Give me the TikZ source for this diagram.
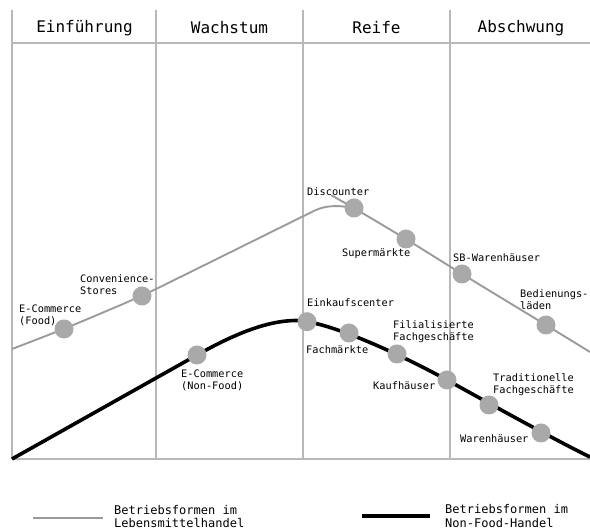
\documentclass[tikz,border=0pt]{standalone}
\usepackage{fontspec}
\setmonofont{DejaVu Sans Mono}
\definecolor{gridc}{HTML}{B8B8B8}
\definecolor{foodc}{HTML}{9B9B9B}
\definecolor{dotc}{HTML}{A9A9A9}
\begin{document}
\begin{tikzpicture}[x=1pt,y=1pt,
  gridline/.style={draw=gridc, line width=1.6pt},
  foodline/.style={draw=foodc, line width=1.9pt},
  nfline/.style={draw=black, line width=3.6pt},
  dot/.style={circle, fill=dotc, minimum size=19pt, inner sep=0pt},
  lbl/.style={font=\ttfamily\fontsize{10.3}{12}\selectfont, align=left, inner sep=0pt, anchor=west},
  hdr/.style={font=\ttfamily\fontsize{16}{18}\selectfont, inner sep=0pt},
  leg/.style={font=\ttfamily\fontsize{12}{13.5}\selectfont, align=left, inner sep=0pt, anchor=west}]
\useasboundingbox (0,0) rectangle (590,532);

% grid
\coordinate (v1t) at (12,522); \coordinate (v1b) at (12,73);
\coordinate (v2t) at (156,522); \coordinate (v2b) at (156,73);
\coordinate (v3t) at (303,522); \coordinate (v3b) at (303,73);
\coordinate (v4t) at (450,522); \coordinate (v4b) at (450,73);
\coordinate (hl) at (12,489); \coordinate (hr) at (590,489);
\coordinate (bl) at (12,73); \coordinate (br) at (590,73);
\draw[gridline] (v1t) -- (v1b);
\draw[gridline] (v2t) -- (v2b);
\draw[gridline] (v3t) -- (v3b);
\draw[gridline] (v4t) -- (v4b);
\draw[gridline] (hl) -- (hr);
\draw[gridline] (bl) -- (br);

% headers
\node[hdr] (h1) at (84.5,504) {Einführung};
\node[hdr] (h2) at (229.5,504) {Wachstum};
\node[hdr] (h3) at (376.5,504) {Reife};
\node[hdr] (h4) at (521,504) {Abschwung};

% food curve points
\coordinate (gs) at (12,183);
\coordinate (food) at (64,203);
\coordinate (conv) at (142,236);
\coordinate (gpeak) at (338,333);
\coordinate (disc) at (354,324);
\coordinate (super) at (406,293);
\coordinate (sb) at (462,258);
\coordinate (bed) at (546,207);
\coordinate (ge) at (590,180);

% non-food curve points
\coordinate (bs) at (12,73);
\coordinate (ecnf) at (197,177);
\coordinate (bpk) at (295,211.5);
\coordinate (eink) at (307,210.3);
\coordinate (fach) at (349,199);
\coordinate (fil) at (397,178);
\coordinate (kauf) at (447,152);
\coordinate (trad) at (489,127);
\coordinate (waren) at (541,99);
\coordinate (be) at (590,75);

\draw[foodline, rounded corners=26pt] (gs) -- (food) -- (conv) -- (gpeak) -- (disc) -- (super) -- (sb) -- (bed) -- (ge);
\draw[nfline] (bs) -- (ecnf) .. controls (232,196.6) and (265,211) .. (bpk)
  .. controls (330,211.5) and (410,172.4) .. (kauf)
  .. controls (480,133.8) and (550,94.6) .. (be);

% dots
\foreach \p in {food,conv,disc,super,sb,bed,ecnf,eink,fach,fil,kauf,trad,waren}
  \node[dot] (d-\p) at (\p) {};

% labels
\node[lbl] (l-disc) at (307,340) {Discounter};
\node[lbl] (l-super) at (342,278) {Supermärkte};
\node[lbl] (l-sb) at (453,274) {SB-Warenhäuser};
\node[lbl] (l-bed) at (520,232.5) {Bedienungs-\\läden};
\node[lbl] (l-eink) at (307,229) {Einkaufscenter};
\node[lbl] (l-fach) at (306,182) {Fachmärkte};
\node[lbl] (l-fil) at (393,200.5) {Filialisierte\\Fachgeschäfte};
\node[lbl] (l-kauf) at (373,146) {Kaufhäuser};
\node[lbl] (l-trad) at (493,147) {Traditionelle\\Fachgeschäfte};
\node[lbl] (l-waren) at (460,93) {Warenhäuser};
\node[lbl] (l-conv) at (80,247) {Convenience-\\Stores};
\node[lbl] (l-food) at (19,217) {E-Commerce\\(Food)};
\node[lbl] (l-ecnf) at (181,152) {E-Commerce\\(Non-Food)};

% legend
\coordinate (lg1a) at (33,14); \coordinate (lg1b) at (103,14);
\coordinate (lg2a) at (362,16); \coordinate (lg2b) at (430,16);
\draw[foodline] (lg1a) -- (lg1b);
\draw[nfline] (lg2a) -- (lg2b);
\node[leg] (lt1) at (114,15.5) {Betriebsformen im\\Lebensmittelhandel};
\node[leg] (lt2) at (445,16) {Betriebsformen im\\Non-Food-Handel};
\end{tikzpicture}
\end{document}
